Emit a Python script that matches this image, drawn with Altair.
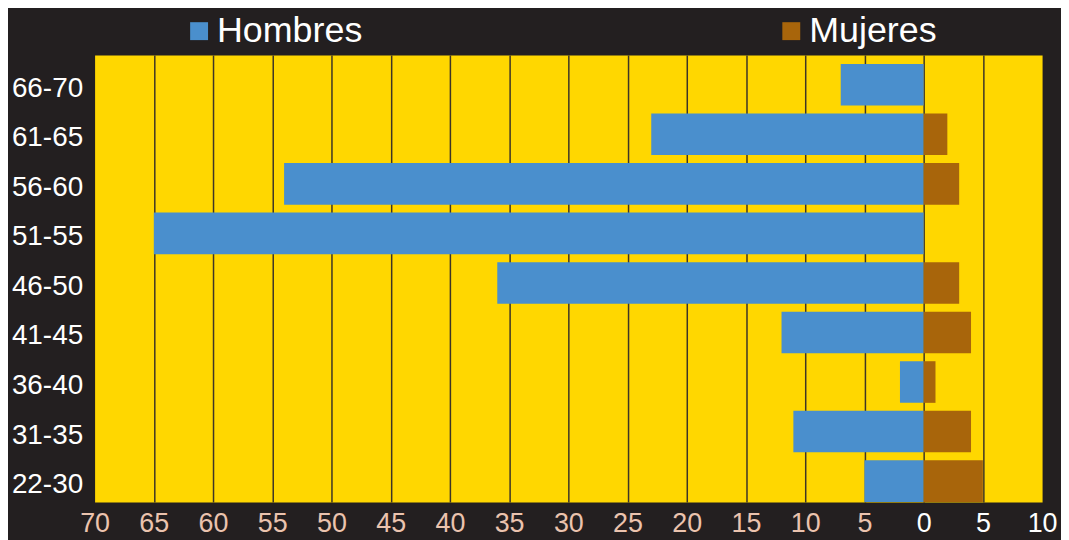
import altair as alt
import pandas as pd

categorias = ["66-70", "61-65", "56-60", "51-55", "46-50", "41-45", "36-40", "31-35", "22-30"]
hombres = [7, 23, 54, 65, 36, 12, 2, 11, 5]
mujeres = [0, 2, 3, 0, 3, 4, 1, 4, 5]
series = ["Hombres", "Mujeres"]
colores = ["#4A8FCD", "#A8650B"]
ticks = list(range(-70, 11, 5))

rows = []
for c, h, m in zip(categorias, hombres, mujeres):
    rows.append({"grupo": c, "sexo": "Hombres", "valor": -h})
    rows.append({"grupo": c, "sexo": "Mujeres", "valor": m})
df = pd.DataFrame(rows)

FONT = "Liberation Sans"

chart = alt.Chart(df).mark_bar().encode(
    x=alt.X(
        "valor:Q",
        stack=None,
        scale=alt.Scale(domain=[-70, 10], nice=False),
        axis=alt.Axis(
            values=ticks,
            labelExpr="abs(datum.value)",
            title=None,
            domain=False,
            ticks=False,
            grid=True,
            gridColor=alt.condition("datum.value == -70 || datum.value == 10",
                                    alt.value("transparent"), alt.value("#3d3526")),
            gridWidth=1.5,
            labelFontSize=27,
            labelFont=FONT,
            labelPadding=9,
            labelColor=alt.condition("datum.value >= 0", alt.value("#FFFFFF"), alt.value("#EBC3AE")),
            labelFlush=False,
        ),
    ),
    y=alt.Y(
        "grupo:N",
        sort=categorias,
        scale=alt.Scale(paddingInner=0.16, paddingOuter=0.09, align=1),
        axis=alt.Axis(
            title=None,
            domain=False,
            ticks=False,
            labelFontSize=28,
            labelFont=FONT,
            labelColor="#FFFFFF",
            labelPadding=12,
            labelOffset=4,
        ),
    ),
    color=alt.Color(
        "sexo:N",
        scale=alt.Scale(domain=series, range=colores),
        legend=alt.Legend(
            title=None,
            orient="none",
            direction="horizontal",
            columns=2,
            legendX=87,
            legendY=-42,
            padding=0,
            columnPadding=412,
            symbolType="square",
            symbolSize=324,
            symbolStrokeWidth=0,
            labelFontSize=36,
            labelFont=FONT,
            labelColor="#FFFFFF",
            labelOffset=0,
        ),
    ),
).properties(
    width=952,
    height=449,
    padding={"left": 87, "top": 46, "right": 19, "bottom": 37},
    autosize=alt.AutoSizeParams(type="none"),
    background="#231F20",
).configure_view(fill="#FFD700", stroke="transparent")

chart.save("out.html", embed_options={"renderer": "svg", "actions": False})
